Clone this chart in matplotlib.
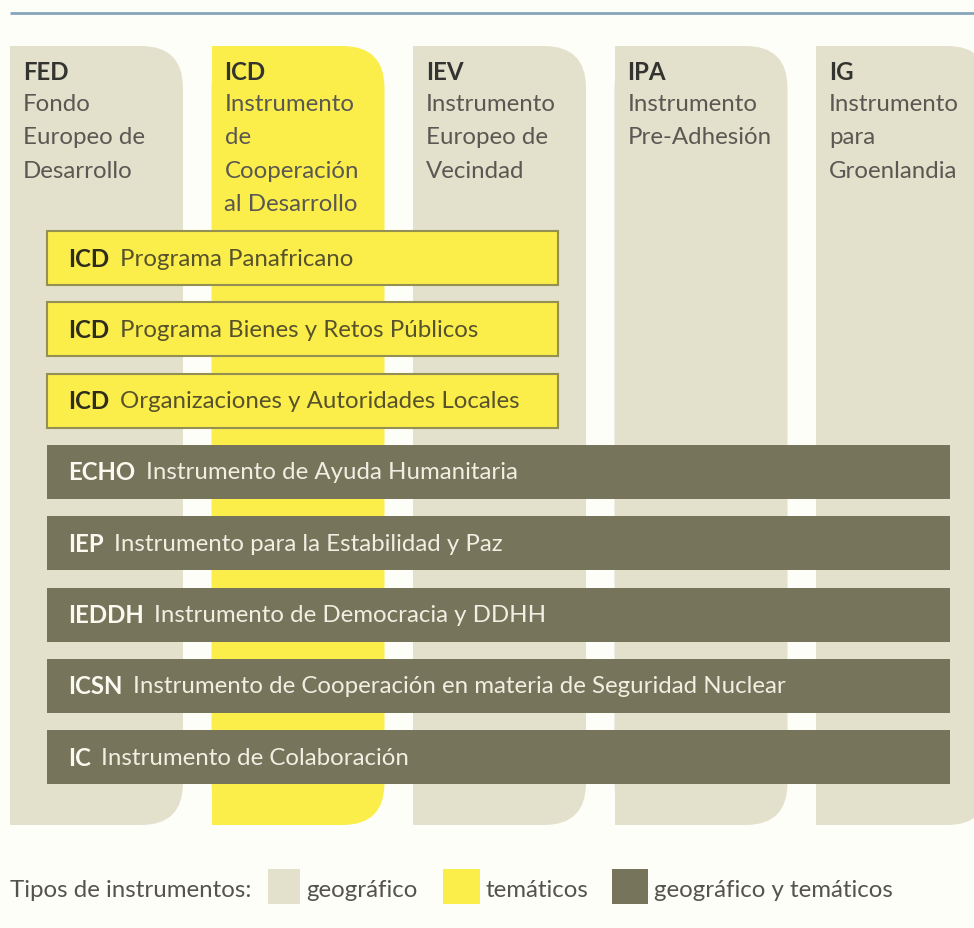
import matplotlib.pyplot as plt
from matplotlib.patches import FancyBboxPatch, Rectangle

# instrument columns (geographic / thematic)
col_codes = ["FED", "ICD", "IEV", "IPA", "IG"]
col_names = [
    "Fondo\nEuropeo de\nDesarrollo",
    "Instrumento\nde\nCooperación\nal Desarrollo",
    "Instrumento\nEuropeo de\nVecindad",
    "Instrumento\nPre-Adhesión",
    "Instrumento\npara\nGroenlandia",
]
col_types = ["geo", "tem", "geo", "geo", "geo"]

# horizontal programmes crossing the columns
bar_codes = ["ICD", "ICD", "ICD", "ECHO", "IEP", "IEDDH", "ICSN", "IC"]
bar_labels = [
    "Programa Panafricano",
    "Programa Bienes y Retos Públicos",
    "Organizaciones y Autoridades Locales",
    "Instrumento de Ayuda Humanitaria",
    "Instrumento para la Estabilidad y Paz",
    "Instrumento de Democracia y DDHH",
    "Instrumento de Cooperación en materia de Seguridad Nuclear",
    "Instrumento de Colaboración",
]
bar_types = ["tem", "tem", "tem", "both", "both", "both", "both", "both"]
bar_last_col = [2, 2, 2, 4, 4, 4, 4, 4]

legend_title = "Tipos de instrumentos:"
legend_keys = ["geo", "tem", "both"]
legend_labels = ["geográfico", "temáticos", "geográfico y temáticos"]

fills = {"geo": "#e3e0cc", "tem": "#fbee4b", "both": "#77745c"}
FONT = "Lato"
FS = 17.3

W, H = 974, 929
fig = plt.figure(figsize=(W / 100, H / 100), dpi=100, facecolor="#fefef9")
ax = fig.add_axes([0, 0, 1, 1])
ax.set_xlim(0, W)
ax.set_ylim(H, 0)
ax.axis("off")

# top rule
ax.plot([10, W], [14, 14], color="#86a4bb", lw=2, solid_capstyle="butt")

col_x0, col_w, col_gap = 10, 173, 28.5
col_top, col_bot, rad = 47, 826, 42
for i, code in enumerate(col_codes):
    x = col_x0 + i * (col_w + col_gap)
    c = fills[col_types[i]]
    ax.add_patch(FancyBboxPatch((x, col_top), col_w, col_bot - col_top,
                                boxstyle=f"round,pad=0,rounding_size={rad}",
                                fc=c, ec="none", zorder=1))
    ax.add_patch(Rectangle((x, col_top), col_w / 2, col_bot - col_top,
                           fc=c, ec="none", zorder=1))
    tx = x + 13
    ax.text(tx, 72, code, fontsize=FS, fontweight="bold", color="#333330",
            family=FONT, va="center", ha="left", zorder=3)
    for j, line in enumerate(col_names[i].split("\n")):
        ax.text(tx, 104 + j * 33.5, line, fontsize=FS, color="#5a5852",
                family=FONT, va="center", ha="left", zorder=3)

bar_x0, bar_top0, bar_h, bar_step = 47, 232, 54, 71.3
for k, code in enumerate(bar_codes):
    y = bar_top0 + k * bar_step
    last = bar_last_col[k]
    x1 = col_x0 + last * (col_w + col_gap) + col_w - 28
    if last == 4:
        x1 = 950
    t = bar_types[k]
    if t == "tem":
        ec, lw, ccol, lcol = "#948f52", 1.5, "#2e2c1c", "#57522c"
    else:
        ec, lw, ccol, lcol = "none", 0, "#fbfaf0", "#f1efe2"
    ax.add_patch(Rectangle((bar_x0, y), x1 - bar_x0, bar_h, fc=fills[t],
                           ec=ec, lw=lw, zorder=2))
    ct = ax.text(bar_x0 + 21, y + bar_h / 2, code, fontsize=FS,
                 fontweight="bold", color=ccol, family=FONT,
                 va="center", ha="left", zorder=3)
    ax.annotate(bar_labels[k], xy=(1, 0.5), xycoords=ct, xytext=(7.5, 0),
                textcoords="offset points", fontsize=FS, color=lcol,
                family=FONT, va="center", ha="left", zorder=3)

# legend
ly = 891
ax.text(10, ly, legend_title, fontsize=FS, color="#55534d", family=FONT,
        va="center", ha="left")
sw_x = [268, 443, 612]
sw_w = [32, 37, 36]
for i, key in enumerate(legend_keys):
    ax.add_patch(Rectangle((sw_x[i], 870), sw_w[i], 35, fc=fills[key],
                           ec="none"))
    ax.text(sw_x[i] + sw_w[i] + 6, ly, legend_labels[i], fontsize=FS,
            color="#55534d", family=FONT, va="center", ha="left")

fig.savefig("out.png", dpi=100, facecolor=fig.get_facecolor())
